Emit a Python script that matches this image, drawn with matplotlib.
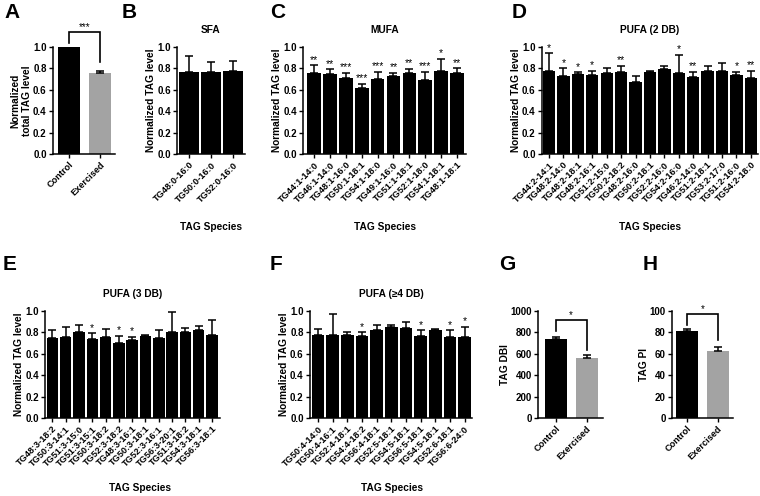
import matplotlib
matplotlib.use("Agg")
import matplotlib.pyplot as plt
import numpy as np

plt.rcParams['font.family'] = ['Liberation Sans', 'DejaVu Sans']
plt.rcParams['font.weight'] = 'bold'

W, H = 760, 496

# --- data ---
groups = ['Control', 'Exercised']
total_tag = [1.0, 0.76]
total_tag_sem = [0.0, 0.02]

sfa_labels = ['TG48:0-16:0', 'TG50:0-16:0', 'TG52:0-16:0']
sfa_mean = [0.77, 0.77, 0.78]
sfa_sem = [0.15, 0.09, 0.09]

mufa_labels = ['TG44:1-14:0', 'TG46:1-14:0', 'TG48:1-16:0', 'TG50:1-18:1', 'TG54:1-18:0',
               'TG49:1-16:0', 'TG51:1-18:1', 'TG52:1-18:0', 'TG54:1-18:1', 'TG48:1-18:1']
mufa_mean = [0.76, 0.75, 0.71, 0.62, 0.70, 0.73, 0.76, 0.69, 0.78, 0.76]
mufa_sem = [0.07, 0.04, 0.05, 0.035, 0.07, 0.03, 0.035, 0.08, 0.11, 0.04]
mufa_stars = ['**', '**', '***', '***', '***', '**', '**', '***', '*', '**']

pufa2_labels = ['TG44:2-14:1', 'TG48:2-14:0', 'TG48:2-18:1', 'TG48:2-16:1', 'TG51:2-15:0',
                'TG50:2-18:2', 'TG48:2-16:0', 'TG50:2-18:1', 'TG52:2-16:0', 'TG54:2-16:0',
                'TG46:2-14:0', 'TG51:2-18:1', 'TG53:2-17:0', 'TG51:2-16:0', 'TG54:2-18:0']
pufa2_mean = [0.78, 0.73, 0.75, 0.74, 0.76, 0.77, 0.67, 0.77, 0.79, 0.76, 0.72, 0.78, 0.78, 0.74, 0.71]
pufa2_sem = [0.16, 0.07, 0.015, 0.04, 0.04, 0.055, 0.06, 0.005, 0.035, 0.165, 0.05, 0.04, 0.07, 0.03, 0.07]
pufa2_stars = ['*', '*', '*', '*', '', '**', '', '', '', '*', '**', '', '', '*', '**']

pufa3_labels = ['TG48:3-18:2', 'TG50:3-14:1', 'TG51:3-15:0', 'TG51:3-15:1', 'TG50:3-18:2',
                'TG52:3-18:2', 'TG48:3-16:1', 'TG50:3-18:1', 'TG52:3-16:1', 'TG56:3-20:1',
                'TG51:3-18:2', 'TG54:3-18:1', 'TG56:3-18:1']
pufa3_mean = [0.75, 0.755, 0.80, 0.74, 0.76, 0.70, 0.73, 0.77, 0.75, 0.80, 0.80, 0.82, 0.78]
pufa3_sem = [0.07, 0.095, 0.07, 0.05, 0.07, 0.07, 0.03, 0.01, 0.07, 0.19, 0.04, 0.04, 0.14]
pufa3_stars = ['', '', '', '*', '', '*', '*', '', '', '', '', '', '']

pufa4_labels = ['TG50:4-14:0', 'TG50:4-16:1', 'TG52:4-18:1', 'TG54:4-18:2', 'TG56:4-18:1',
                'TG52:5-18:1', 'TG54:5-18:1', 'TG56:5-18:1', 'TG54:5-18:1', 'TG52:6-18:1',
                'TG56:6-24:0']
pufa4_mean = [0.78, 0.78, 0.78, 0.77, 0.82, 0.855, 0.84, 0.77, 0.82, 0.76, 0.76]
pufa4_sem = [0.05, 0.19, 0.02, 0.03, 0.05, 0.01, 0.06, 0.05, 0.01, 0.06, 0.09]
pufa4_stars = ['', '', '', '*', '', '', '', '*', '', '*', '*']

dbi = [735, 565]
dbi_sem = [25, 20]
pi_vals = [81, 63]
pi_sem = [2, 3]

GRAY = '#a3a3a3'


def add_ax(x0, y0, x1, y1):
    return fig.add_axes([x0 / W, 1 - y1 / H, (x1 - x0) / W, (y1 - y0) / H])


def style(ax, ylim, yticks, yfmt='{:.1f}'):
    for s in ['top', 'right']:
        ax.spines[s].set_visible(False)
    for s in ['left', 'bottom']:
        ax.spines[s].set_linewidth(1.1)
    ax.set_ylim(*ylim)
    ax.set_yticks(yticks)
    ax.set_yticklabels([yfmt.format(t) for t in yticks], fontsize=7, fontweight='bold')
    ax.tick_params(axis='both', direction='out', length=3, width=1.0, pad=1.5)


def bars(ax, labels, means, sems, colors, width, stars=None, star_fs=7.5):
    x = np.arange(len(means))
    ax.bar(x, means, width=width, color=colors, edgecolor='none', zorder=2)
    ax.errorbar(x, means, yerr=[np.zeros(len(sems)), sems], fmt='none', ecolor='black',
                elinewidth=1.1, capsize=2.6, capthick=1.1, zorder=3)
    ax.set_xticks(x)
    ax.set_xticklabels(labels, rotation=45, ha='right', rotation_mode='anchor',
                       fontsize=6.6, fontweight='bold')
    if stars:
        for i, s in enumerate(stars):
            if s:
                ax.text(i, means[i] + sems[i] + 0.005 * ax.get_ylim()[1], s, ha='center',
                        va='bottom', fontsize=star_fs, fontweight='normal')


def bracket(ax, y_left, y_top, y_right, label):
    ax.plot([0, 0, 1, 1], [y_left, y_top, y_top, y_right], color='black', lw=1.2,
            clip_on=False, solid_joinstyle='miter')
    ax.text(0.5, y_top, label, ha='center', va='bottom', fontsize=7, fontweight='normal')


def letter(x, y, s):
    fig.text(x / W, 1 - y / H, s, fontsize=15, fontweight='bold', ha='left', va='center')


def ylab(ax, s):
    ax.set_ylabel(s, fontsize=7.3, fontweight='bold', labelpad=0.5)


fig = plt.figure(figsize=(7.6, 4.96), dpi=100)

# A
ax = add_ax(53, 47, 115, 154)
bars(ax, groups, total_tag, total_tag_sem, ['black', GRAY], 0.72)
style(ax, (0, 1.0), np.arange(0, 1.01, 0.2))
ax.set_xlim(-0.52, 1.48)
ylab(ax, 'Normalized\ntotal TAG level')
bracket(ax, 1.04, 1.14, 0.86, '***')

# B
ax = add_ax(177, 47, 245, 154)
bars(ax, sfa_labels, sfa_mean, sfa_sem, 'black', 0.88)
style(ax, (0, 1.0), np.arange(0, 1.01, 0.2))
ax.set_xlim(-0.55, 2.55)
ylab(ax, 'Normalized TAG level')
ax.set_title('SFA', fontsize=7.3, fontweight='bold', pad=10)
fig.text(211 / W, 1 - 227 / H, 'TAG Species', ha='center', va='center', fontsize=7.3, fontweight='bold')

# C
ax = add_ax(303, 47, 466, 154)
bars(ax, mufa_labels, mufa_mean, mufa_sem, 'black', 0.86, mufa_stars)
style(ax, (0, 1.0), np.arange(0, 1.01, 0.2))
ax.set_xlim(-0.69, 9.56)
ylab(ax, 'Normalized TAG level')
ax.set_title('MUFA', fontsize=7.3, fontweight='bold', pad=10)
fig.text(385 / W, 1 - 227 / H, 'TAG Species', ha='center', va='center', fontsize=7.3, fontweight='bold')

# D
ax = add_ax(542, 47, 758, 154)
bars(ax, pufa2_labels, pufa2_mean, pufa2_sem, 'black', 0.86, pufa2_stars)
style(ax, (0, 1.0), np.arange(0, 1.01, 0.2))
ax.set_xlim(-0.49, 14.5)
ylab(ax, 'Normalized TAG level')
ax.set_title('PUFA (2 DB)', fontsize=7.3, fontweight='bold', pad=10)
fig.text(650 / W, 1 - 227 / H, 'TAG Species', ha='center', va='center', fontsize=7.3, fontweight='bold')

# E
ax = add_ax(45, 311, 220, 418)
bars(ax, pufa3_labels, pufa3_mean, pufa3_sem, 'black', 0.86, pufa3_stars)
style(ax, (0, 1.0), np.arange(0, 1.01, 0.2))
ax.set_xlim(-0.55, 12.6)
ylab(ax, 'Normalized TAG level')
ax.set_title('PUFA (3 DB)', fontsize=7.3, fontweight='bold', pad=10)
fig.text(140 / W, 1 - 488 / H, 'TAG Species', ha='center', va='center', fontsize=7.3, fontweight='bold')

# F
ax = add_ax(310, 311, 472, 418)
bars(ax, pufa4_labels, pufa4_mean, pufa4_sem, 'black', 0.86, pufa4_stars)
style(ax, (0, 1.0), np.arange(0, 1.01, 0.2))
ax.set_xlim(-0.55, 10.5)
ylab(ax, 'Normalized TAG level')
ax.set_title('PUFA (\u22654 DB)', fontsize=7.3, fontweight='bold', pad=10)
fig.text(392 / W, 1 - 488 / H, 'TAG Species', ha='center', va='center', fontsize=7.3, fontweight='bold')

# G
ax = add_ax(538, 311, 603, 418)
bars(ax, groups, dbi, dbi_sem, ['black', GRAY], 0.72)
style(ax, (0, 1000), np.arange(0, 1001, 200), '{:.0f}')
ax.set_xlim(-0.59, 1.54)
ylab(ax, 'TAG DBI')
bracket(ax, 815, 916, 636, '*')

# H
ax = add_ax(672, 311, 733, 418)
bars(ax, groups, pi_vals, pi_sem, ['black', GRAY], 0.72)
style(ax, (0, 100), np.arange(0, 101, 20), '{:.0f}')
ax.set_xlim(-0.49, 1.5)
ylab(ax, 'TAG PI')
bracket(ax, 87, 97, 73, '*')

letter(4, 12, 'A')
letter(122, 12, 'B')
letter(270, 12, 'C')
letter(512, 12, 'D')
letter(3, 264, 'E')
letter(270, 264, 'F')
letter(499, 264, 'G')
letter(643, 264, 'H')

fig.savefig('out.png', dpi=100)
